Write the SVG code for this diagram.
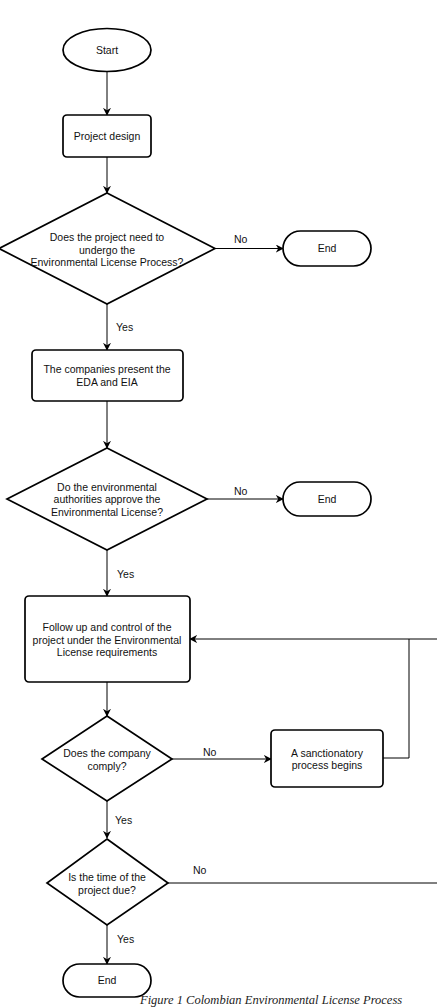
<svg xmlns="http://www.w3.org/2000/svg" width="437" height="1008" viewBox="0 0 437 1008">
<style>
.s{fill:#fff;stroke:#000;stroke-width:1.7}
.c{fill:none;stroke:#000;stroke-width:1}
.t{font-family:"Liberation Sans",Arial,sans-serif;font-size:10.5px;fill:#111;text-anchor:middle}
.l{font-family:"Liberation Sans",Arial,sans-serif;font-size:10.5px;fill:#111}
.cap{font-family:"Liberation Serif","Times New Roman",serif;font-style:italic;font-size:12.5px;fill:#222}
</style>
<defs>
<marker id="a" viewBox="0 0 10 10" refX="9" refY="5" markerWidth="8" markerHeight="8" markerUnits="userSpaceOnUse" orient="auto">
<path d="M0,0 L10,5 L0,10 L3,5 Z" fill="#000"/>
</marker>
</defs>
<rect width="437" height="1008" fill="#fff"/>
<g id="connectors">
<line class="c" x1="107" y1="72" x2="107" y2="115" marker-end="url(#a)"/>
<line class="c" x1="107" y1="157" x2="107" y2="193" marker-end="url(#a)"/>
<line class="c" x1="215" y1="248.5" x2="283" y2="248.5" marker-end="url(#a)"/>
<line class="c" x1="107" y1="304" x2="107" y2="350" marker-end="url(#a)"/>
<line class="c" x1="107" y1="401" x2="107" y2="448" marker-end="url(#a)"/>
<line class="c" x1="207" y1="499" x2="283" y2="499" marker-end="url(#a)"/>
<line class="c" x1="107" y1="550" x2="107" y2="596" marker-end="url(#a)"/>
<line class="c" x1="107" y1="682" x2="107" y2="716" marker-end="url(#a)"/>
<line class="c" x1="172" y1="759" x2="271" y2="759" marker-end="url(#a)"/>
<polyline class="c" points="383,758 409,758 409,639"/>
<line class="c" x1="437" y1="639" x2="190" y2="639" marker-end="url(#a)"/>
<line class="c" x1="107" y1="801" x2="107" y2="838" marker-end="url(#a)"/>
<line class="c" x1="168" y1="883" x2="437" y2="883"/>
<line class="c" x1="107" y1="925" x2="107" y2="964" marker-end="url(#a)"/>
<text class="l" x="234" y="243">No</text>
<text class="l" x="116" y="331">Yes</text>
<text class="l" x="234" y="495">No</text>
<text class="l" x="117" y="578">Yes</text>
<text class="l" x="203" y="756">No</text>
<text class="l" x="115" y="824">Yes</text>
<text class="l" x="193" y="874">No</text>
<text class="l" x="117" y="943">Yes</text>
</g>
<g id="start">
<ellipse class="s" cx="107" cy="50" rx="44" ry="21.5"/>
<text class="t" x="107" y="54">Start</text>
</g>
<g id="design">
<rect class="s" x="63" y="115" width="88" height="42" rx="4"/>
<text class="t" x="107" y="140">Project design</text>
</g>
<g id="q1">
<polygon class="s" points="107,193 215,248.5 107,304 -1,248.5"/>
<text class="t" x="107" y="241">Does the project need to</text>
<text class="t" x="107" y="253.5">undergo the</text>
<text class="t" x="107" y="266">Environmental License Process?</text>
</g>
<g id="end1">
<rect class="s" x="283" y="231" width="88" height="35" rx="17.5"/>
<text class="t" x="327" y="252">End</text>
</g>
<g id="present">
<rect class="s" x="32" y="350" width="151" height="51" rx="4"/>
<text class="t" x="107" y="373">The companies present the</text>
<text class="t" x="107" y="386">EDA and EIA</text>
</g>
<g id="q2">
<polygon class="s" points="107,448 207,499 107,550 7,499"/>
<text class="t" x="107" y="491">Do the environmental</text>
<text class="t" x="107" y="503">authorities approve the</text>
<text class="t" x="107" y="516">Environmental License?</text>
</g>
<g id="end2">
<rect class="s" x="283" y="482" width="88" height="34" rx="17"/>
<text class="t" x="327" y="503">End</text>
</g>
<g id="follow">
<rect class="s" x="25" y="596" width="165" height="86" rx="4"/>
<text class="t" x="107" y="631">Follow up and control of the</text>
<text class="t" x="107" y="644">project under the Environmental</text>
<text class="t" x="107" y="656">License requirements</text>
</g>
<g id="q3">
<polygon class="s" points="107,716 172,759 107,801 42,759"/>
<text class="t" x="107" y="757">Does the company</text>
<text class="t" x="107" y="770">comply?</text>
</g>
<g id="sanction">
<rect class="s" x="271" y="730" width="112" height="57" rx="4"/>
<text class="t" x="327" y="757">A sanctionatory</text>
<text class="t" x="327" y="769">process begins</text>
</g>
<g id="q4">
<polygon class="s" points="107,839 168,883 107,925 47,883"/>
<text class="t" x="107" y="881">Is the time of the</text>
<text class="t" x="107" y="894">project due?</text>
</g>
<g id="end3">
<rect class="s" x="63" y="964" width="88" height="33" rx="16.5"/>
<text class="t" x="107" y="984">End</text>
</g>
<text class="cap" x="140" y="1004">Figure 1 Colombian Environmental License Process</text>
</svg>
